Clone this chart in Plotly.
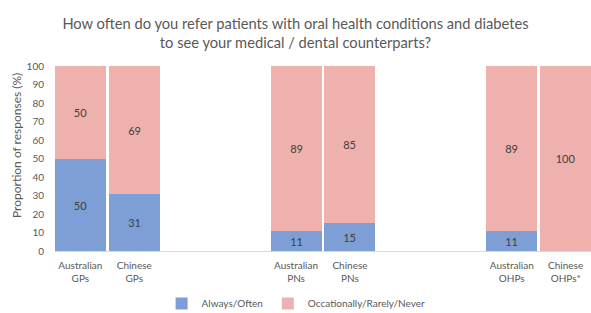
import plotly.graph_objects as go

categories = ["Australian<br>GPs", "Chinese<br>GPs", "Australian<br>PNs", "Chinese<br>PNs", "Australian<br>OHPs", "Chinese<br>OHPs*"]
positions = [0, 1, 4, 5, 8, 9]
always_often = [50, 31, 11, 15, 11, 0]
occasionally = [50, 69, 89, 85, 89, 100]
y_ticks = [0, 10, 20, 30, 40, 50, 60, 70, 80, 90, 100]

FONT = "Lato, Open Sans, sans-serif"
GREY = "#595959"

W, H = 591, 313
ML, MR, MT, MB = 55, 0, 66, 62
PW, PH = W - ML - MR, H - MT - MB

def labels(vals):
    return [str(v) if v > 0 else "" for v in vals]

fig = go.Figure()
fig.add_trace(go.Bar(
    x=positions, y=always_often, name="Always/Often",
    marker=dict(color="#7e9ed6", line=dict(width=0)),
    text=labels(always_often), textposition="inside", insidetextanchor="middle",
    textfont=dict(color="#404040", size=11, family=FONT), width=0.945,
    constraintext="none",
))
fig.add_trace(go.Bar(
    x=positions, y=occasionally, name="Occationally/Rarely/Never",
    marker=dict(color="#efb1ad", line=dict(width=0)),
    text=labels(occasionally), textposition="inside", insidetextanchor="middle",
    textfont=dict(color="#404040", size=11, family=FONT), width=0.945,
    constraintext="none",
))

fig.update_layout(
    barmode="stack",
    width=W, height=H,
    margin=dict(l=ML, r=MR, t=MT, b=MB, autoexpand=False),
    paper_bgcolor="white", plot_bgcolor="white",
    font=dict(family=FONT, color=GREY, size=10),
    title=dict(
        text="How often do you refer patients with oral health conditions and diabetes<br>to see your medical / dental counterparts?",
        x=0.5, xref="container", xanchor="center",
        y=1 - 29 / H, yref="container", yanchor="middle",
        font=dict(size=14.7, color=GREY, family=FONT),
    ),
    xaxis=dict(
        range=[-0.47, 9.47], tickmode="array", tickvals=positions, ticktext=categories,
        showgrid=False, zeroline=False, showline=True, linecolor="#d9d9d9", linewidth=1,
        ticks="", tickfont=dict(size=10, color=GREY), ticklabelstandoff=5,
        automargin=False,
    ),
    yaxis=dict(
        range=[0, 100], tickmode="array", tickvals=y_ticks,
        showgrid=False, zeroline=False, showline=False, ticks="",
        tickfont=dict(size=10, color=GREY), ticklabelstandoff=10,
        automargin=False,
    ),
    legend=dict(
        orientation="h", x=0.501, xref="container", xanchor="center",
        y=1 - 289 / H, yref="container", yanchor="top",
        font=dict(size=10, color=GREY), itemwidth=30, traceorder="normal",
    ),
    bargap=0,
    annotations=[dict(
        text="Proportion of responses (%)", textangle=-90,
        xref="paper", yref="paper",
        x=(16 - ML) / PW, y=(251 - 146) / PH,
        xanchor="center", yanchor="middle", showarrow=False,
        font=dict(size=12, color=GREY, family=FONT),
    )],
)

fig.write_html(
    "out.html",
    config={"displayModeBar": False},
    post_script="document.body.style.margin='0px';document.body.style.overflow='hidden';",
)
